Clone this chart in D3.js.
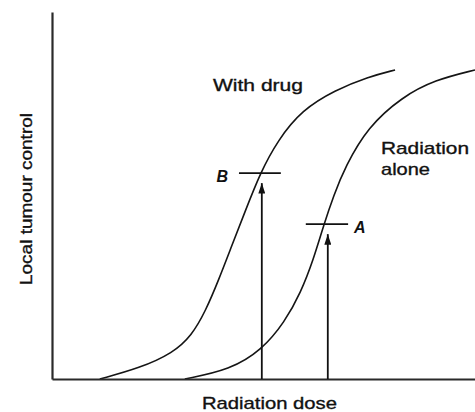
<!DOCTYPE html>
<html>
<head>
<meta charset="utf-8">
<script src="https://cdn.jsdelivr.net/npm/d3@7"></script>
<style>
  body { margin: 0; background: #fff; }
  svg { display: block; }
  .lbl { font-family: "Liberation Sans", Arial, sans-serif; font-size: 17px; fill: #111; stroke: #111; stroke-width: 0.35px; }
  .mark { font-family: "Liberation Sans", Arial, sans-serif; font-size: 16px; font-style: italic; font-weight: bold; fill: #111; }
</style>
</head>
<body>
<div id="content"></div>
<script>
// dose in arbitrary units (0-100), control in percent
const withDrugDose    = [11.3, 20.8, 28.6, 33.0, 36.3, 39.4, 42.4, 45.6, 49.2, 53.4, 59.1, 66.9, 74.7, 81.1];
const withDrugControl = [0,    3.0,  7.1, 11.8, 18.5, 27.0, 36.0, 45.5, 56.1, 65.1, 73.3, 78.7, 82.3, 84.2];

const aloneDose    = [31.4, 42.1, 49.6, 55.0, 58.8, 61.8, 64.3, 66.6, 69.3, 74.7, 82.7, 90.5, 100];
const aloneControl = [0,    2.5,  7.9, 15.5, 23.5, 32.5, 42.2, 50.0, 57.8, 68.7, 76.8, 81.5, 84.2];

// iso-effect markers: name, level, dose of arrow, tick span
const markerNames  = ['B', 'A'];
const markerLevel  = [56.1, 42.2];
const markerDose   = [49.6, 65.2];
const markerFrom   = [44.2, 60.0];
const markerTo     = [54.1, 70.0];

const xTitle = 'Radiation dose';
const yTitle = 'Local tumour control';
const curveLabels = [['With drug'], ['Radiation', 'alone']];

var chartWidth = 475;
var chartHeight = 412;
var plotLeft = 52, plotTop = 12, plotBottom = 379;

var svg = d3.select('#content')
.append('svg')
.attr('width', chartWidth)
.attr('height', chartHeight);

var xScale = d3.scaleLinear().domain([0, 100]).range([plotLeft, chartWidth]);
var yScale = d3.scaleLinear().domain([0, 100]).range([plotBottom, plotTop]);

var line = d3.line()
.x(function (d) {return xScale(d[0])})
.y(function (d) {return yScale(d[1])})
.curve(d3.curveBasis);

var curves = [
    d3.zip(withDrugDose, withDrugControl),
    d3.zip(aloneDose, aloneControl)
];

svg.selectAll('.curve')
.data(curves)
.enter()
.append('path')
.attr('class', 'curve')
.attr('d', line)
.attr('fill', 'none')
.attr('stroke', '#151515')
.attr('stroke-width', 1.6);

// axes with no ticks
var xAxis = d3.axisBottom(xScale).tickValues([]).tickSizeOuter(0);
var yAxis = d3.axisLeft(yScale).tickValues([]).tickSizeOuter(0);

svg.append('g')
.attr('class', 'x-axis')
.attr('transform', 'translate(0,' + plotBottom + ')')
.call(xAxis)
.select('.domain')
.attr('stroke', '#2a2a2a')
.attr('stroke-width', 2.2);

svg.append('g')
.attr('class', 'y-axis')
.attr('transform', 'translate(' + plotLeft + ',0)')
.call(yAxis)
.select('.domain')
.attr('stroke', '#2a2a2a')
.attr('stroke-width', 2.2);

svg.append('defs')
.append('marker')
.attr('id', 'head')
.attr('viewBox', '0 0 8 12')
.attr('refX', 4)
.attr('refY', 0)
.attr('markerWidth', 7)
.attr('markerHeight', 12)
.attr('markerUnits', 'userSpaceOnUse')
.attr('orient', '0')
.append('path')
.attr('d', 'M0,12 L4,0 L8,12 Z')
.attr('fill', '#111');

var markers = markerNames.map(function (n, i) {
    return {name: n, level: markerLevel[i], dose: markerDose[i], from: markerFrom[i], to: markerTo[i]};
});

svg.selectAll('.tick-line')
.data(markers)
.enter()
.append('line')
.attr('class', 'tick-line')
.attr('x1', function (d) {return xScale(d.from)})
.attr('x2', function (d) {return xScale(d.to)})
.attr('y1', function (d) {return yScale(d.level)})
.attr('y2', function (d) {return yScale(d.level)})
.attr('stroke', '#111')
.attr('stroke-width', 1.6);

svg.selectAll('.arrow')
.data(markers)
.enter()
.append('line')
.attr('class', 'arrow')
.attr('x1', function (d) {return xScale(d.dose)})
.attr('x2', function (d) {return xScale(d.dose)})
.attr('y1', plotBottom)
.attr('y2', function (d) {return yScale(d.level) + 10})
.attr('stroke', '#111')
.attr('stroke-width', 1.8)
.attr('marker-end', 'url(#head)');

svg.selectAll('.mark')
.data(markers)
.enter()
.append('text')
.attr('class', 'mark')
.attr('x', function (d, i) {return i == 0 ? xScale(d.from) - 11 : xScale(d.to) + 6})
.attr('y', function (d) {return yScale(d.level) + 8.5})
.attr('text-anchor', function (d, i) {return i == 0 ? 'end' : 'start'})
.text(function (d) {return d.name});

// curve labels
svg.append('text')
.attr('class', 'lbl')
.attr('x', 213)
.attr('y', 91)
.attr('textLength', 90)
.attr('lengthAdjust', 'spacingAndGlyphs')
.text(curveLabels[0][0]);

svg.append('text')
.attr('class', 'lbl')
.attr('x', 381)
.attr('y', 154)
.attr('textLength', 88)
.attr('lengthAdjust', 'spacingAndGlyphs')
.text(curveLabels[1][0]);

svg.append('text')
.attr('class', 'lbl')
.attr('x', 381)
.attr('y', 175)
.attr('textLength', 49)
.attr('lengthAdjust', 'spacingAndGlyphs')
.text(curveLabels[1][1]);

// axis titles
svg.append('text')
.attr('class', 'lbl')
.attr('x', 202)
.attr('y', 409)
.attr('textLength', 135)
.attr('lengthAdjust', 'spacingAndGlyphs')
.text(xTitle);

svg.append('text')
.attr('class', 'lbl')
.attr('transform', 'translate(32,285) rotate(-90)')
.attr('x', 0)
.attr('y', 0)
.attr('textLength', 172)
.attr('lengthAdjust', 'spacingAndGlyphs')
.text(yTitle);
</script>
</body>
</html>
